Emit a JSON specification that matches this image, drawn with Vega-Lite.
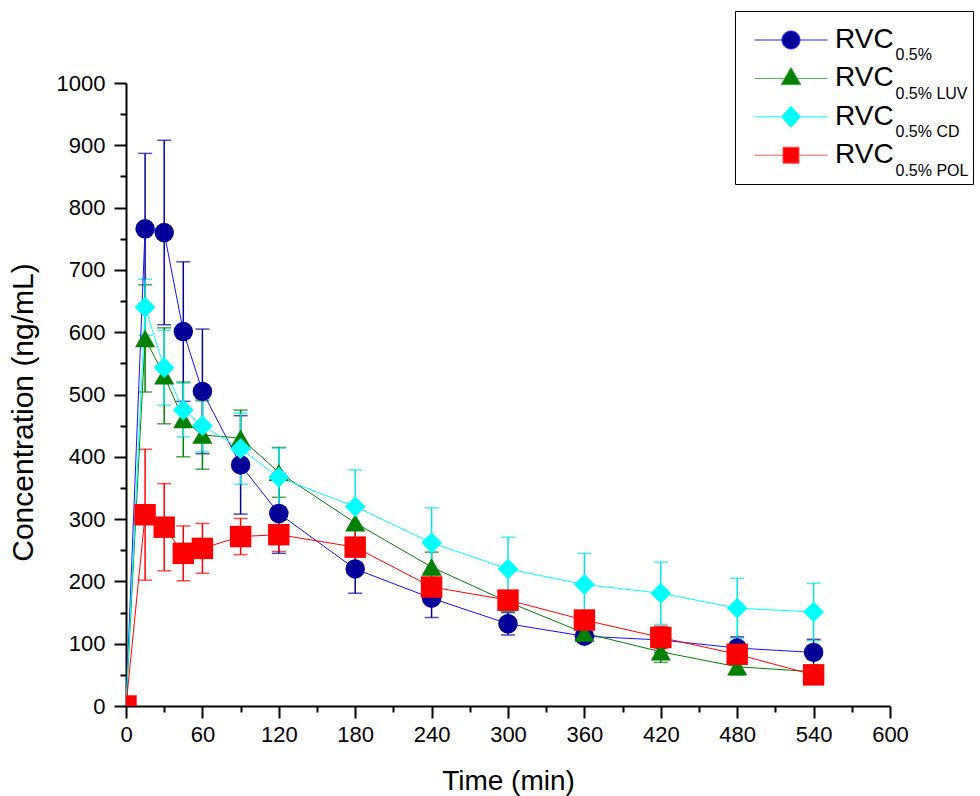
{
  "$schema": "https://vega.github.io/schema/vega-lite/v6.json",
  "width": 764,
  "height": 623,
  "autosize": "none",
  "padding": {"left": 126, "top": 83, "right": 90, "bottom": 90},
  "background": "white",
  "config": {
    "view": {"stroke": null},
    "font": "Liberation Sans",
    "axis": {
      "grid": false,
      "domainColor": "black",
      "domainWidth": 2,
      "tickColor": "black",
      "tickWidth": 2,
      "labelFont": "Liberation Sans",
      "labelFontSize": 22,
      "labelColor": "black",
      "labelFlush": false,
      "labelOverlap": false,
      "titleFont": "Liberation Sans",
      "titleFontWeight": "normal",
      "titleColor": "black"
    }
  },
  "data": {
    "values": [
      {"g": "RVC0.5%", "t": 0, "v": 0, "e": 0},
      {"g": "RVC0.5%", "t": 15, "v": 766, "e": 121},
      {"g": "RVC0.5%", "t": 30, "v": 760, "e": 148},
      {"g": "RVC0.5%", "t": 45, "v": 601, "e": 112},
      {"g": "RVC0.5%", "t": 60, "v": 505, "e": 100},
      {"g": "RVC0.5%", "t": 90, "v": 387, "e": 79},
      {"g": "RVC0.5%", "t": 120, "v": 309, "e": 64},
      {"g": "RVC0.5%", "t": 180, "v": 220, "e": 39},
      {"g": "RVC0.5%", "t": 240, "v": 173, "e": 31},
      {"g": "RVC0.5%", "t": 300, "v": 132, "e": 18},
      {"g": "RVC0.5%", "t": 360, "v": 112, "e": 10},
      {"g": "RVC0.5%", "t": 420, "v": 106, "e": 20},
      {"g": "RVC0.5%", "t": 480, "v": 93, "e": 18},
      {"g": "RVC0.5%", "t": 540, "v": 86, "e": 21},
      {"g": "RVC0.5% LUV", "t": 0, "v": 0, "e": 0},
      {"g": "RVC0.5% LUV", "t": 15, "v": 590, "e": 86},
      {"g": "RVC0.5% LUV", "t": 30, "v": 530, "e": 77},
      {"g": "RVC0.5% LUV", "t": 45, "v": 460, "e": 60},
      {"g": "RVC0.5% LUV", "t": 60, "v": 435, "e": 55},
      {"g": "RVC0.5% LUV", "t": 90, "v": 430, "e": 45},
      {"g": "RVC0.5% LUV", "t": 120, "v": 375, "e": 40},
      {"g": "RVC0.5% LUV", "t": 180, "v": 294, "e": 30},
      {"g": "RVC0.5% LUV", "t": 240, "v": 223, "e": 24},
      {"g": "RVC0.5% LUV", "t": 300, "v": 167, "e": 15},
      {"g": "RVC0.5% LUV", "t": 360, "v": 117, "e": 12},
      {"g": "RVC0.5% LUV", "t": 420, "v": 87, "e": 17},
      {"g": "RVC0.5% LUV", "t": 480, "v": 63, "e": 13},
      {"g": "RVC0.5% LUV", "t": 540, "v": 55, "e": 10},
      {"g": "RVC0.5% CD", "t": 0, "v": 0, "e": 0},
      {"g": "RVC0.5% CD", "t": 15, "v": 640, "e": 45},
      {"g": "RVC0.5% CD", "t": 30, "v": 543, "e": 60},
      {"g": "RVC0.5% CD", "t": 45, "v": 475, "e": 43},
      {"g": "RVC0.5% CD", "t": 60, "v": 450, "e": 42},
      {"g": "RVC0.5% CD", "t": 90, "v": 413, "e": 57},
      {"g": "RVC0.5% CD", "t": 120, "v": 367, "e": 47},
      {"g": "RVC0.5% CD", "t": 180, "v": 320, "e": 59},
      {"g": "RVC0.5% CD", "t": 240, "v": 262, "e": 56},
      {"g": "RVC0.5% CD", "t": 300, "v": 220, "e": 51},
      {"g": "RVC0.5% CD", "t": 360, "v": 195, "e": 50},
      {"g": "RVC0.5% CD", "t": 420, "v": 181, "e": 50},
      {"g": "RVC0.5% CD", "t": 480, "v": 157, "e": 48},
      {"g": "RVC0.5% CD", "t": 540, "v": 151, "e": 46},
      {"g": "RVC0.5% POL", "t": 0, "v": 0, "e": 0},
      {"g": "RVC0.5% POL", "t": 15, "v": 307, "e": 105},
      {"g": "RVC0.5% POL", "t": 30, "v": 287, "e": 70},
      {"g": "RVC0.5% POL", "t": 45, "v": 245, "e": 44},
      {"g": "RVC0.5% POL", "t": 60, "v": 253, "e": 40},
      {"g": "RVC0.5% POL", "t": 90, "v": 272, "e": 29},
      {"g": "RVC0.5% POL", "t": 120, "v": 275, "e": 27},
      {"g": "RVC0.5% POL", "t": 180, "v": 255, "e": 30},
      {"g": "RVC0.5% POL", "t": 240, "v": 191, "e": 20},
      {"g": "RVC0.5% POL", "t": 300, "v": 170, "e": 10},
      {"g": "RVC0.5% POL", "t": 360, "v": 138, "e": 12},
      {"g": "RVC0.5% POL", "t": 420, "v": 110, "e": 18},
      {"g": "RVC0.5% POL", "t": 480, "v": 83, "e": 15},
      {"g": "RVC0.5% POL", "t": 540, "v": 50, "e": 8}
    ]
  },
  "layer": [
    {
      "encoding": {
        "x": {
          "field": "t", "type": "quantitative",
          "scale": {"domain": [0, 600], "nice": false, "zero": false},
          "axis": {
            "title": "Time (min)",
            "values": [0, 30, 60, 90, 120, 150, 180, 210, 240, 270, 300, 330, 360, 390, 420, 450, 480, 510, 540, 570, 600],
            "format": "d",
            "labelExpr": "datum.value % 60 == 0 ? datum.label : ''",
            "tickSize": {"condition": {"test": "datum.value % 60 == 0", "value": 12}, "value": 6},
            "labelPadding": 6,
            "titleFontSize": 28,
            "titlePadding": 22
          }
        },
        "y": {
          "field": "v", "type": "quantitative",
          "scale": {"domain": [0, 1000], "nice": false, "zero": false},
          "axis": {
            "title": "Concentration (ng/mL)",
            "values": [0, 50, 100, 150, 200, 250, 300, 350, 400, 450, 500, 550, 600, 650, 700, 750, 800, 850, 900, 950, 1000],
            "format": "d",
            "labelExpr": "datum.value % 100 == 0 ? datum.label : ''",
            "tickSize": {"condition": {"test": "datum.value % 100 == 0", "value": 12}, "value": 6},
            "labelPadding": 9,
            "titleFontSize": 30,
            "titlePadding": 18,
            "titleY": 329
          }
        }
      },
      "layer": [
        {
          "transform": [{"filter": "datum.e > 0"}],
          "mark": {"type": "errorbar", "clip": true, "ticks": {"size": 14, "thickness": 1.5}, "rule": {"strokeWidth": 1.5}},
          "encoding": {
            "yError": {"field": "e"},
            "color": {
              "field": "g", "type": "nominal",
              "scale": {"domain": ["RVC0.5%", "RVC0.5% LUV", "RVC0.5% CD", "RVC0.5% POL"], "range": ["#000099", "#008000", "#00E5E5", "#FF0000"]},
              "legend": null
            }
          }
        },
        {
          "mark": {"type": "line", "strokeWidth": 1, "clip": true},
          "encoding": {
            "color": {
              "field": "g", "type": "nominal",
              "scale": {"domain": ["RVC0.5%", "RVC0.5% LUV", "RVC0.5% CD", "RVC0.5% POL"], "range": ["#1010FF", "#008000", "#00FFFF", "#FF0000"]},
              "legend": null
            }
          }
        },
        {
          "mark": {"type": "point", "filled": true, "opacity": 1, "clip": true},
          "encoding": {
            "shape": {
              "field": "g", "type": "nominal",
              "scale": {"domain": ["RVC0.5%", "RVC0.5% LUV", "RVC0.5% CD", "RVC0.5% POL"], "range": ["circle", "triangle-up", "diamond", "square"]},
              "legend": null
            },
            "fill": {
              "field": "g", "type": "nominal",
              "scale": {"domain": ["RVC0.5%", "RVC0.5% LUV", "RVC0.5% CD", "RVC0.5% POL"], "range": ["#000099", "#008000", "#00FFFF", "#FF0000"]},
              "legend": null
            },
            "size": {
              "field": "g", "type": "nominal",
              "scale": {"domain": ["RVC0.5%", "RVC0.5% LUV", "RVC0.5% CD", "RVC0.5% POL"], "range": [380, 460, 576, 324]},
              "legend": null
            }
          }
        }
      ],
      "resolve": {"scale": {"color": "independent"}}
    },
    {
      "transform": [{"filter": "false"}],
      "mark": {"type": "point", "filled": true},
      "encoding": {
        "shape": {
          "field": "g", "type": "nominal",
          "scale": {"domain": ["RVC0.5%", "RVC0.5% LUV", "RVC0.5% CD", "RVC0.5% POL"], "range": [
            "M-3.65,0L-0.9,0M0.9,0L3.65,0M0.9,0A0.9,0.9,0,1,1,-0.9,0A0.9,0.9,0,1,1,0.9,0Z",
            "M-3.65,0L-0.64,0M0.64,0L3.65,0M0,-1.1L1,0.63L-1,0.63Z",
            "M-3.65,0L-0.95,0M0.95,0L3.65,0M0,-1.05L0.95,0L0,1.05L-0.95,0Z",
            "M-3.65,0L-0.8,0M0.8,0L3.65,0M-0.8,-0.8L0.8,-0.8L0.8,0.8L-0.8,0.8Z"
          ]},
          "legend": {"orient": "none", "legendX": 651, "legendY": -57, "title": null, "padding": 0, "labelExpr": "'RVC'", "labelFont": "Liberation Sans", "labelFontSize": 28, "labelColor": "black", "labelOffset": 30, "symbolSize": 400, "symbolStrokeWidth": 1, "symbolOpacity": 1, "rowPadding": 10.4}
        },
        "fill": {
          "field": "g", "type": "nominal",
          "scale": {"domain": ["RVC0.5%", "RVC0.5% LUV", "RVC0.5% CD", "RVC0.5% POL"], "range": ["#000099", "#008000", "#00FFFF", "#FF0000"]},
          "legend": {"orient": "none", "legendX": 651, "legendY": -57, "title": null, "padding": 0, "labelExpr": "'RVC'", "labelFont": "Liberation Sans", "labelFontSize": 28, "labelColor": "black", "labelOffset": 30, "symbolSize": 400, "symbolStrokeWidth": 1, "symbolOpacity": 1, "rowPadding": 10.4}
        },
        "stroke": {
          "field": "g", "type": "nominal",
          "scale": {"domain": ["RVC0.5%", "RVC0.5% LUV", "RVC0.5% CD", "RVC0.5% POL"], "range": ["#2020FF", "#50A850", "#00FFFF", "#FF5050"]},
          "legend": {"orient": "none", "legendX": 651, "legendY": -57, "title": null, "padding": 0, "labelExpr": "'RVC'", "labelFont": "Liberation Sans", "labelFontSize": 28, "labelColor": "black", "labelOffset": 30, "symbolSize": 400, "symbolStrokeWidth": 1, "symbolOpacity": 1, "rowPadding": 10.4}
        }
      }
    },
    {
      "transform": [{"filter": "false"}],
      "mark": {"type": "point"},
      "encoding": {
        "opacity": {
          "field": "g", "type": "nominal",
          "scale": {"domain": ["RVC0.5%", "RVC0.5% LUV", "RVC0.5% CD", "RVC0.5% POL"], "range": [1, 1, 1, 1]},
          "legend": {"orient": "none", "legendX": 609, "legendY": -72, "title": " ", "titleFontSize": 20, "titlePadding": 11.5, "padding": 4.5, "strokeColor": "black", "labelExpr": "replace(datum.label, 'RVC', '')", "labelFont": "Liberation Sans", "labelFontSize": 16, "labelColor": "black", "labelOffset": 140, "symbolType": "stroke", "symbolSize": 1, "symbolOpacity": 0, "symbolStrokeWidth": 0, "rowPadding": 22.6}
        }
      }
    }
  ],
  "resolve": {"scale": {"color": "independent", "shape": "independent", "fill": "independent", "stroke": "independent", "opacity": "independent", "size": "independent"}}
}
